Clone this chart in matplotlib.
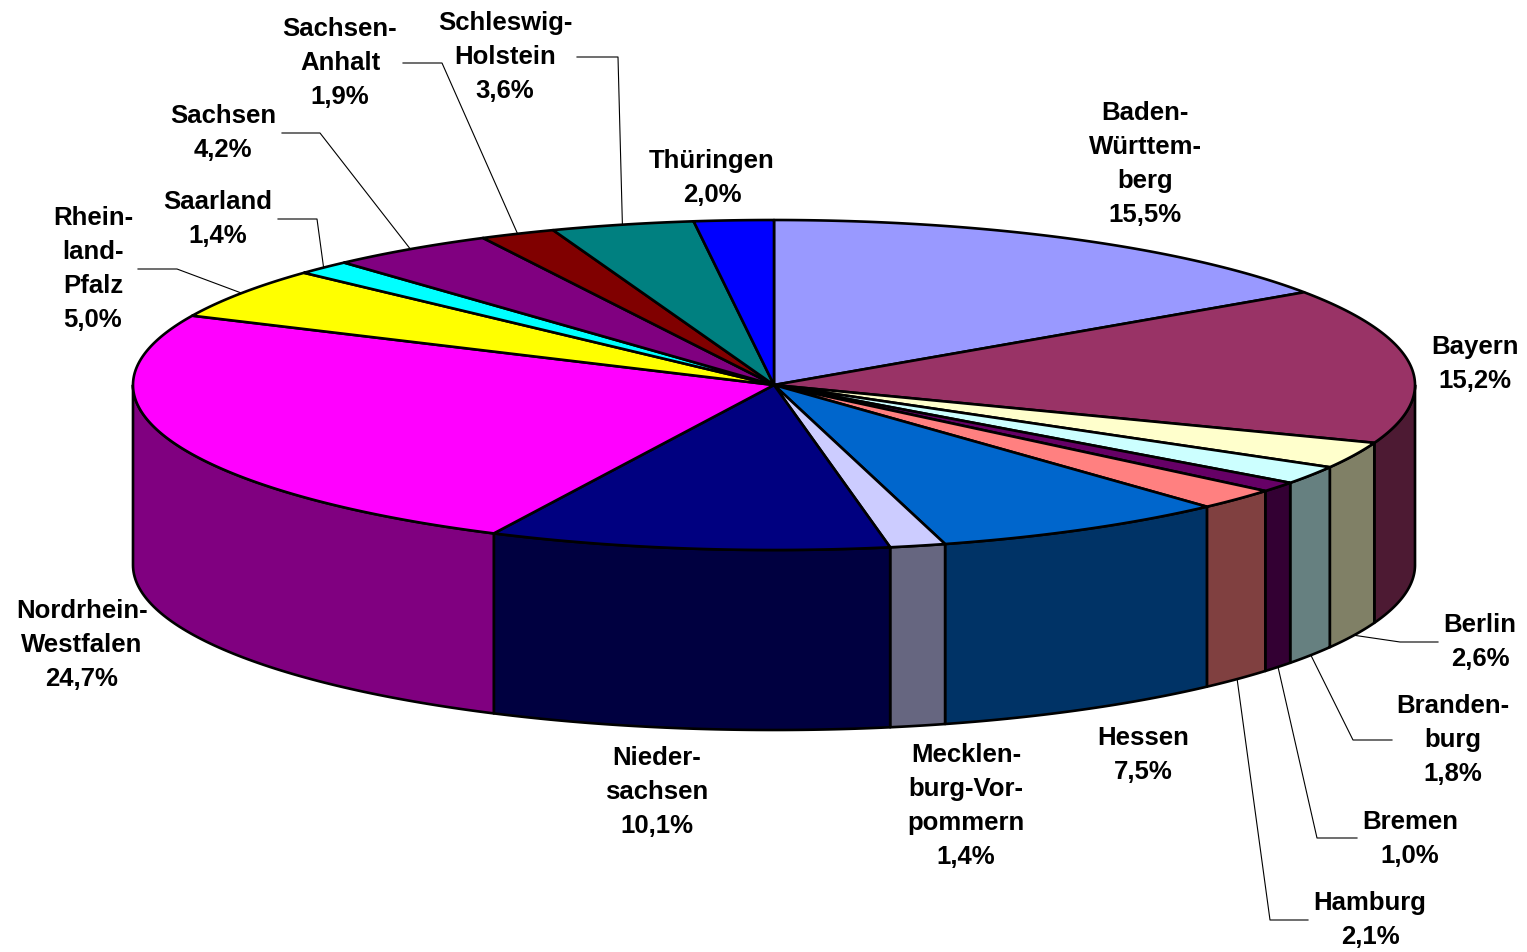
import numpy as np
import matplotlib
matplotlib.use("Agg")
import matplotlib.pyplot as plt
from matplotlib.patches import Polygon

# ---- data ----
states = ["Baden-\nWürttem-\nberg", "Bayern", "Berlin", "Branden-\nburg", "Bremen",
          "Hamburg", "Hessen", "Mecklen-\nburg-Vor-\npommern", "Nieder-\nsachsen",
          "Nordrhein-\nWestfalen", "Rhein-\nland-\nPfalz", "Saarland", "Sachsen",
          "Sachsen-\nAnhalt", "Schleswig-\nHolstein", "Thüringen"]
shares = [15.5, 15.2, 2.6, 1.8, 1.0, 2.1, 7.5, 1.4, 10.1, 24.7, 5.0, 1.4, 4.2, 1.9, 3.6, 2.0]
colors = ["#9999FF", "#993366", "#FFFFCC", "#CCFFFF", "#660066", "#FF8080", "#0066CC",
          "#CCCCFF", "#000080", "#FF00FF", "#FFFF00", "#00FFFF", "#800080", "#800000",
          "#008080", "#0000FF"]

# ---- layout (pixel coordinates) ----
W, H = 1527, 952
cx, cy, rx, ry, depth = 774, 385, 641, 165, 180

label_pos = [(1145, 164), (1475, 364), (1480, 642), (1453, 740), (1410, 839),
             (1370, 920), (1143, 755), (966, 806), (657, 792), (82, 645),
             (93, 269), (218, 219), (223, 133), (340, 63), (505, 57), (712, 178)]
# leader lines: (label-side end, elbow) ; pie end computed from slice mid-angle
leaders = {2: [(1438, 642), (1400, 642)],
           3: [(1392, 740), (1353, 740)],
           4: [(1357, 838), (1317, 838)],
           5: [(1308, 920), (1270, 920)],
           10: [(138, 269), (177, 269)],
           11: [(278, 219), (317, 219)],
           12: [(282, 133), (320, 133)],
           13: [(403, 63), (442, 63)],
           14: [(577, 57), (618, 57)]}

fig = plt.figure(figsize=(W / 100, H / 100), dpi=100)
ax = fig.add_axes([0, 0, 1, 1])
ax.set_xlim(0, W)
ax.set_ylim(H, 0)
ax.axis("off")


def pt(t_deg, dy=0.0):
    t = np.radians(t_deg)
    return cx + rx * np.sin(t), cy - ry * np.cos(t) + dy


def darker(c):
    r, g, b = matplotlib.colors.to_rgb(c)
    return (r * 0.5, g * 0.5, b * 0.5)


total = sum(shares)
bounds = np.concatenate([[0], np.cumsum(shares)]) / total * 360.0
lw = 1.9

# side walls (front half: 90..270 degrees)
for i in range(len(shares)):
    a0, a1 = max(bounds[i], 90), min(bounds[i + 1], 270)
    if a1 <= a0:
        continue
    ts = np.linspace(a0, a1, 80)
    top = [pt(t) for t in ts]
    bot = [pt(t, depth) for t in ts[::-1]]
    ax.add_patch(Polygon(top + bot, closed=True, facecolor=darker(colors[i]),
                         edgecolor="black", linewidth=lw, joinstyle="round", zorder=2))

# top faces
for i in range(len(shares)):
    ts = np.linspace(bounds[i], bounds[i + 1], 200)
    verts = [(cx, cy)] + [pt(t) for t in ts]
    ax.add_patch(Polygon(verts, closed=True, facecolor=colors[i],
                         edgecolor="black", linewidth=lw, joinstyle="round", zorder=3))

# leader lines
for i, (p_end, p_elbow) in leaders.items():
    mid = (bounds[i] + bounds[i + 1]) / 2
    dy = depth if np.cos(np.radians(mid)) < 0 else 0
    p_pie = pt(mid, dy)
    xs = [p_end[0], p_elbow[0], p_pie[0]]
    ys = [p_end[1], p_elbow[1], p_pie[1]]
    ax.plot(xs, ys, color="black", linewidth=0.8, zorder=1)

# labels
for i, name in enumerate(states):
    txt = name + "\n" + f"{shares[i]:.1f}".replace(".", ",") + "%"
    ax.text(label_pos[i][0], label_pos[i][1], txt, ha="center", va="center",
            multialignment="center", fontsize=18.5, fontweight="bold",
            family=["Liberation Sans", "DejaVu Sans"], linespacing=1.53, zorder=5)

fig.savefig("out.png", dpi=100)
